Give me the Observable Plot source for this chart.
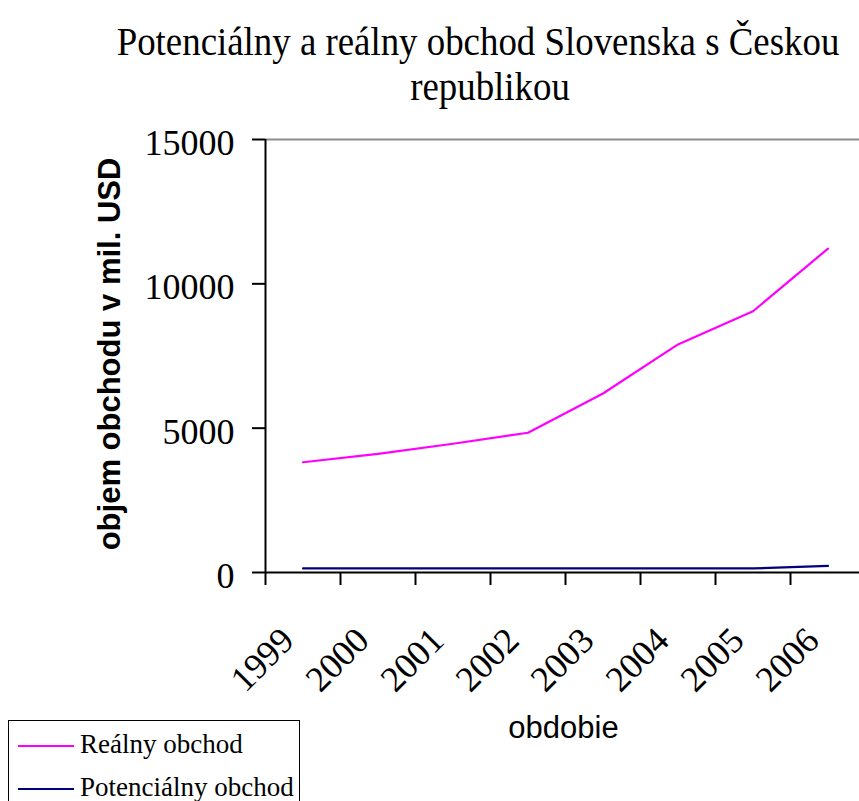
<!DOCTYPE html>
<html>
<head>
<meta charset="utf-8">
<script src="https://cdn.jsdelivr.net/npm/d3@7"></script>
<script src="https://cdn.jsdelivr.net/npm/@observablehq/plot@0.6"></script>
<style>
  html, body { margin: 0; padding: 0; background: #fff; overflow: hidden; }
  #chart { position: relative; width: 859px; height: 801px; overflow: hidden; background: #fff; }
  #chart svg { position: absolute; left: 0; top: 0; max-width: none; }
  .serif { font-family: "Times New Roman", "Liberation Serif", serif; color: #000; }
  .title { position: absolute; white-space: nowrap; font-size: 39px; line-height: 36px; transform: translateX(-50%) scaleX(0.945); }
  .legend { position: absolute; left: 8px; top: 720px; width: 290px; height: 100px; border: 1.5px solid #000; background: #fff; }
  .legend .swatch { position: absolute; left: 9px; width: 56px; height: 2px; }
  .legend .lbl { position: absolute; left: 71px; white-space: nowrap; font-size: 27px; line-height: 27px; }
</style>
</head>
<body>
<div id="chart"></div>
<script>
// Trade between Slovakia and the Czech Republic, in millions of USD
const years = [1999, 2000, 2001, 2002, 2003, 2004, 2005, 2006];
const realTrade = [3820, 4110, 4460, 4840, 6200, 7900, 9050, 11220];
const potentialTrade = [140, 140, 140, 140, 140, 140, 140, 230];
const yTicks = [0, 5000, 10000, 15000];
const seriesNames = ["Reálny obchod", "Potenciálny obchod"];
const seriesColors = ["#FF00FF", "#000080"];
const titleLines = ["Potenciálny a reálny obchod Slovenska s Českou", "republikou"];
const yLabel = "objem obchodu v mil. USD";
const xLabel = "obdobie";

const serif = "'Times New Roman', 'Liberation Serif', serif";
const sans = "Arial, 'Liberation Sans', sans-serif";

const rows = years.flatMap((year, i) => [
  {year, value: realTrade[i], series: seriesNames[0]},
  {year, value: potentialTrade[i], series: seriesNames[1]}
]);

// each year is a category slot one unit wide; ticks sit on slot boundaries
const xDomain = [years[0] - 0.5, years[years.length - 1] + 0.5];
const slotEdges = years.map(y => y - 0.5);

const chart = Plot.plot({
  width: 859,
  height: 801,
  marginTop: 139,
  marginBottom: 229,
  marginLeft: 265,
  marginRight: -6,
  style: {background: "transparent", overflow: "visible"},
  x: {type: "linear", domain: xDomain, axis: null},
  y: {domain: [yTicks[0], yTicks[yTicks.length - 1]], axis: null},
  color: {domain: seriesNames, range: seriesColors},
  marks: [
    // plot-area border along the top
    Plot.ruleY([yTicks[yTicks.length - 1]], {stroke: "#8c8c8c", strokeWidth: 2}),
    Plot.line(rows, {x: "year", y: "value", z: "series", stroke: "series", strokeWidth: 2.2}),
    // axis lines
    Plot.ruleY([yTicks[0]], {stroke: "#000", strokeWidth: 2}),
    Plot.ruleX([xDomain[0]], {stroke: "#000", strokeWidth: 2}),
    // tick marks (no text)
    Plot.axisX({ticks: slotEdges, anchor: "bottom", tickSize: 13, stroke: "#000", strokeWidth: 2, fill: "none", label: null}),
    Plot.axisY({ticks: yTicks, anchor: "left", tickSize: 13, stroke: "#000", strokeWidth: 2, fill: "none", label: null}),
    // value labels (no tick marks)
    Plot.axisY({ticks: yTicks, anchor: "left", tickSize: 13, tickPadding: 18, stroke: "none", tickFormat: d => String(d),
      fontSize: 36, fontFamily: serif, fill: "#000", dy: 4, label: null}),
    // rotated year labels
    Plot.text(years, {x: d => d, y: () => yTicks[0], text: d => String(d),
      rotate: -45, textAnchor: "end", lineAnchor: "top", dx: -25, dy: 52,
      fontSize: 36, fontFamily: serif, fill: "#000"}),
    // axis titles
    Plot.text([yLabel], {frameAnchor: "left", rotate: -90, textAnchor: "middle", lineAnchor: "bottom",
      dx: -146, dy: -2, fontSize: 31, fontWeight: "bold", fontFamily: sans, fill: "#000"}),
    Plot.text([xLabel], {frameAnchor: "bottom", textAnchor: "middle", lineAnchor: "bottom",
      dx: -2, dy: 165, fontSize: 31, fontFamily: sans, fill: "#000"})
  ]
});

const root = document.getElementById("chart");
root.appendChild(chart);

// title, two centred lines
const titleCenters = [478, 490];
const titleTops = [24, 69];
titleLines.forEach((line, i) => {
  const el = document.createElement("div");
  el.className = "title serif";
  el.style.left = titleCenters[i] + "px";
  el.style.top = titleTops[i] + "px";
  el.textContent = line;
  root.appendChild(el);
});

// legend box
const legend = document.createElement("div");
legend.className = "legend";
const rowTops = [24, 67];
seriesNames.forEach((name, i) => {
  const sw = document.createElement("div");
  sw.className = "swatch";
  sw.style.top = rowTops[i] + "px";
  sw.style.background = seriesColors[i];
  legend.appendChild(sw);
  const lbl = document.createElement("div");
  lbl.className = "lbl serif";
  lbl.style.top = (rowTops[i] - 14) + "px";
  lbl.textContent = name;
  legend.appendChild(lbl);
});
root.appendChild(legend);
</script>
</body>
</html>
